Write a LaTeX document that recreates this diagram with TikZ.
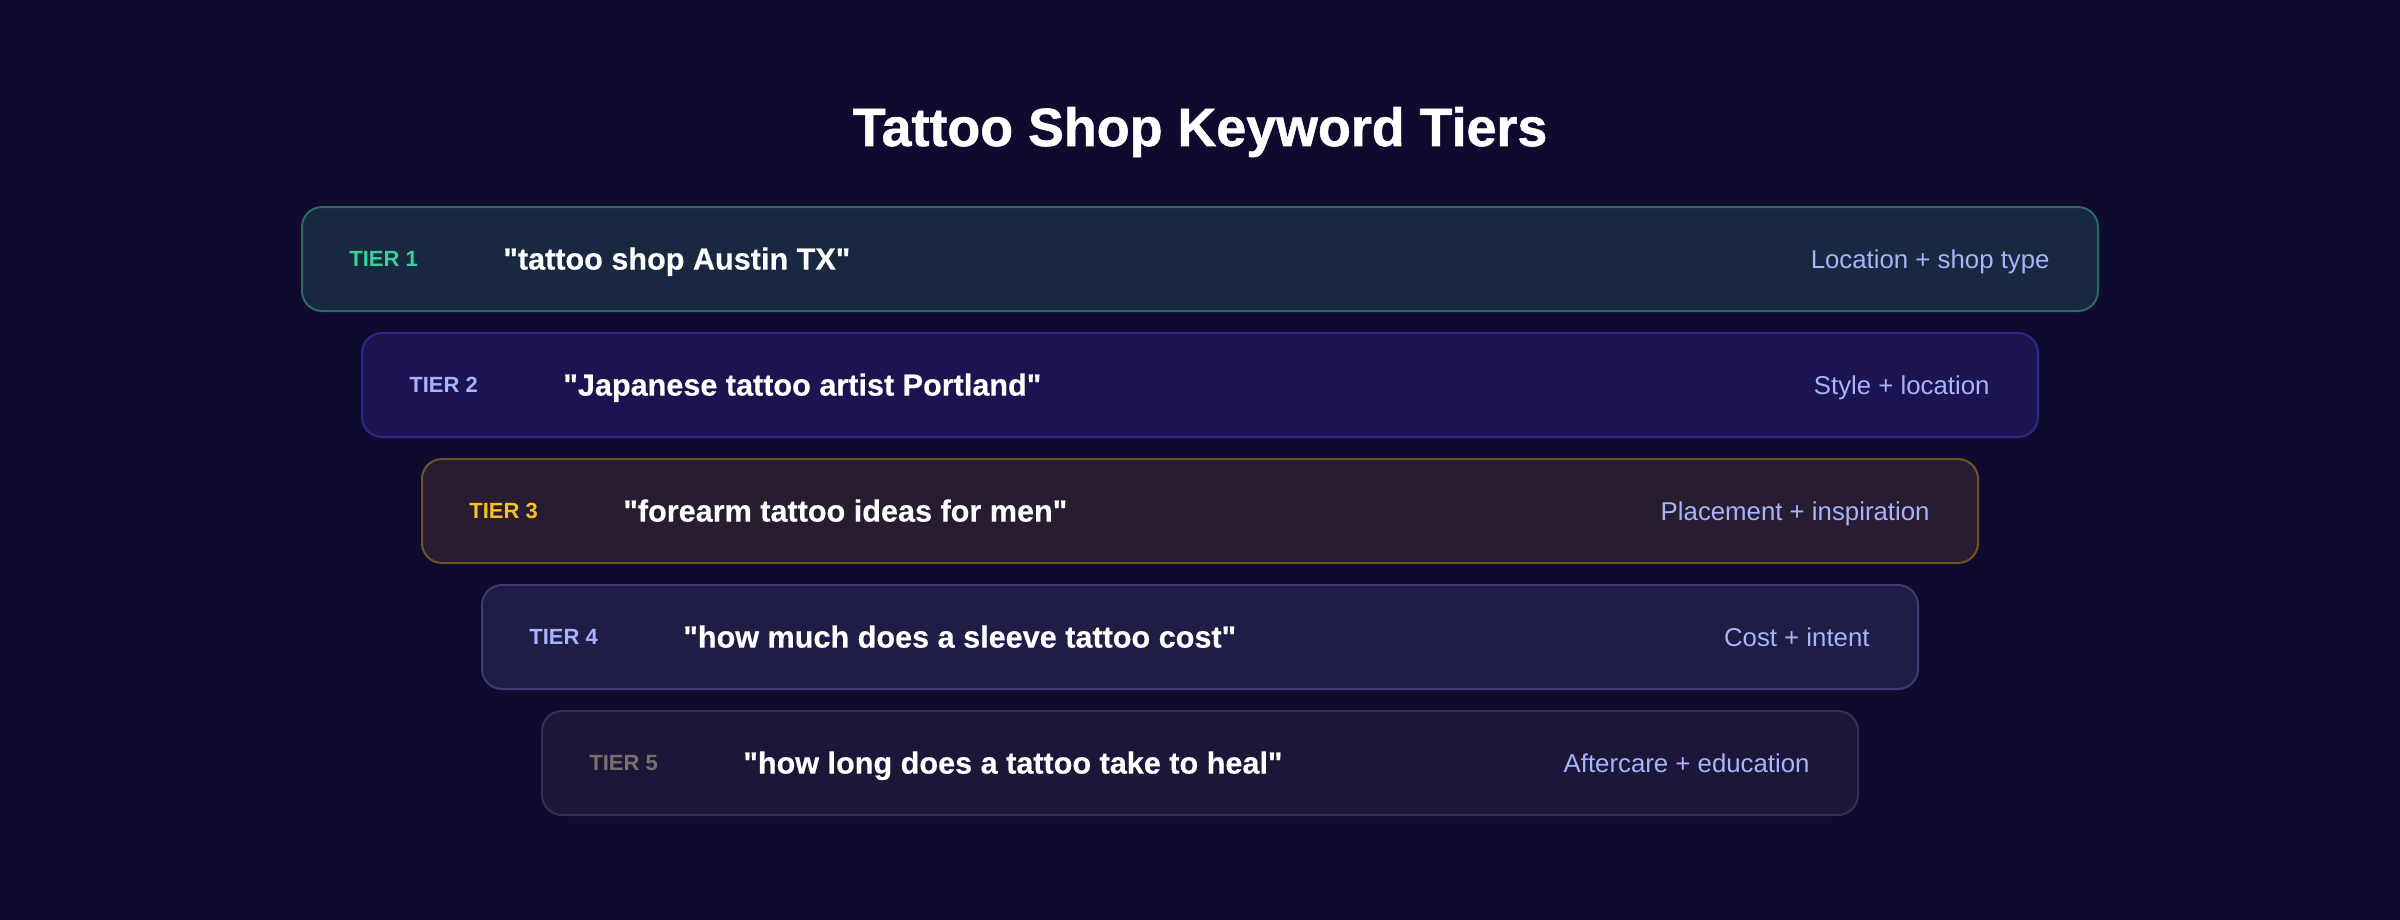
\documentclass[tikz,border=0pt]{standalone}
\usepackage{fontspec}
\setmainfont{Liberation Sans}

\definecolor{bg}{HTML}{0F0B2E}
\definecolor{notecol}{HTML}{A5B4FC}
\definecolor{tonefill}{HTML}{172840}
\definecolor{toneline}{HTML}{2A6A60}
\definecolor{tonetag}{HTML}{34D399}
\definecolor{ttwofill}{HTML}{1B1450}
\definecolor{ttwoline}{HTML}{2F2784}
\definecolor{ttwotag}{HTML}{A5B4FC}
\definecolor{tthreefill}{HTML}{281C30}
\definecolor{tthreeline}{HTML}{6E5426}
\definecolor{tthreetag}{HTML}{FBBF24}
\definecolor{tfourfill}{HTML}{1F1D45}
\definecolor{tfourline}{HTML}{3E3B72}
\definecolor{tfourtag}{HTML}{A5B4FC}
\definecolor{tfivefill}{HTML}{1C1739}
\definecolor{tfiveline}{HTML}{332E52}
\definecolor{tfivetag}{HTML}{78716C}

\newcommand{\qt}[1]{\textquotedbl#1\textquotedbl}

\tikzset{
  tierbox/.style={draw, line width=1pt, rounded corners=10pt, minimum height=52pt, inner sep=0pt},
  tiertag/.style={anchor=base west, inner sep=0pt, xshift=24pt, yshift=-3.9pt, font=\fontsize{11}{13}\selectfont\bfseries},
  keyword/.style={anchor=base west, inner sep=0pt, xshift=101pt, yshift=-5.3pt, text=white, font=\fontsize{15.3}{18}\selectfont\bfseries\addfontfeature{FakeBold=0.4}},
  tiernote/.style={anchor=base east, inner sep=0pt, xshift=-24.5pt, yshift=-4.6pt, text=notecol, font=\fontsize{12.9}{15}\selectfont}
}

\begin{document}
\begin{tikzpicture}[x=0.5pt,y=-0.5pt]

	% background
	\fill [bg] (0,0) rectangle (2400,920);
	\useasboundingbox (0,0) rectangle (2400,920);

	% title
	\node [anchor=base, inner sep=0pt, text=white, font=\fontsize{26.9}{30}\selectfont\bfseries\addfontfeature{FakeBold=1}] (title) at (1200,146) {Tattoo Shop Keyword Tiers};

	% tier 1
	\node [tierbox, draw=toneline, fill=tonefill, minimum width=898pt] (tone) at (1200,259) {};
	\node [tiertag, text=tonetag] (tonetag) at (tone.west) {TIER 1};
	\node [keyword] (tonekey) at (tone.west) {\qt{tattoo shop Austin TX}};
	\node [tiernote] (tonenote) at (tone.east) {Location + shop type};

	% tier 2
	\node [tierbox, draw=ttwoline, fill=ttwofill, minimum width=838pt] (ttwo) at (1200,385) {};
	\node [tiertag, text=ttwotag] (ttwotag) at (ttwo.west) {TIER 2};
	\node [keyword] (ttwokey) at (ttwo.west) {\qt{Japanese tattoo artist Portland}};
	\node [tiernote] (ttwonote) at (ttwo.east) {Style + location};

	% tier 3
	\node [tierbox, draw=tthreeline, fill=tthreefill, minimum width=778pt] (tthree) at (1200,511) {};
	\node [tiertag, text=tthreetag] (tthreetag) at (tthree.west) {TIER 3};
	\node [keyword] (tthreekey) at (tthree.west) {\qt{forearm tattoo ideas for men}};
	\node [tiernote] (tthreenote) at (tthree.east) {Placement + inspiration};

	% tier 4
	\node [tierbox, draw=tfourline, fill=tfourfill, minimum width=718pt] (tfour) at (1200,637) {};
	\node [tiertag, text=tfourtag] (tfourtag) at (tfour.west) {TIER 4};
	\node [keyword] (tfourkey) at (tfour.west) {\qt{how much does a sleeve tattoo cost}};
	\node [tiernote] (tfournote) at (tfour.east) {Cost + intent};

	% tier 5
	\node [tierbox, draw=tfiveline, fill=tfivefill, minimum width=658pt] (tfive) at (1200,763) {};
	\node [tiertag, text=tfivetag] (tfivetag) at (tfive.west) {TIER 5};
	\node [keyword] (tfivekey) at (tfive.west) {\qt{how long does a tattoo take to heal}};
	\node [tiernote] (tfivenote) at (tfive.east) {Aftercare + education};

\end{tikzpicture}
\end{document}
